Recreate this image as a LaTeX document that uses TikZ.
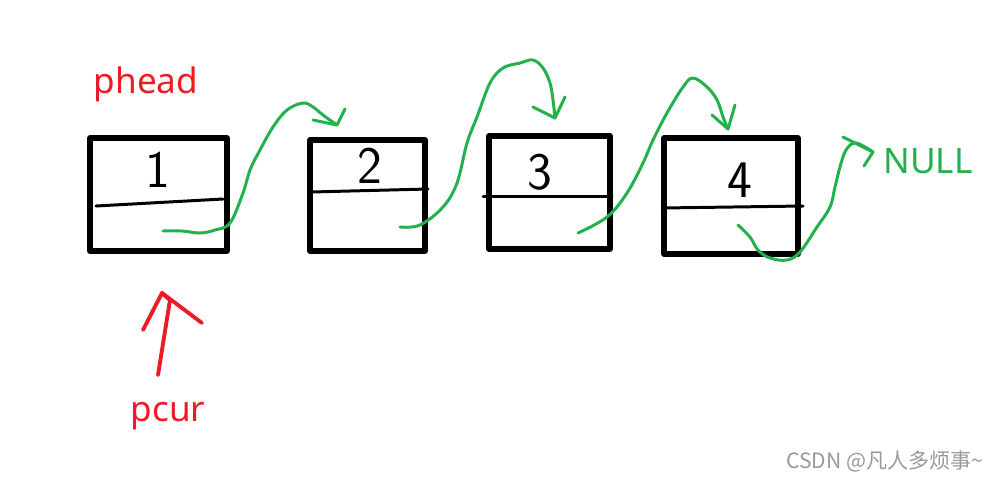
\documentclass[tikz,border=0pt]{standalone}
\usepackage{fontspec}
\setmainfont{Noto Sans}
\newfontfamily\cjk{Noto Sans CJK SC}
\definecolor{lgreen}{RGB}{34,177,76}
\definecolor{lred}{RGB}{237,28,36}

\begin{document}
\begin{tikzpicture}[x=0.02cm, y=-0.02cm, line cap=round, line join=round,
	box/.style={draw, line width=2.9pt, inner sep=0pt},
	digit/.style={font=\fontsize{30}{30}\selectfont\sffamily},
	lbl/.style={font=\fontsize{20}{24}\selectfont},
	link/.style={lgreen, line width=1.7pt},
	ptr/.style={lred, line width=2.2pt}]
	\useasboundingbox (0,0) rectangle (1003,481);

	% list nodes
	\node[box, minimum width=2.74cm, minimum height=2.26cm] (b1) at (158.5,194.5) {};
	\node[box, minimum width=2.30cm, minimum height=2.22cm] (b2) at (367.5,195.5) {};
	\node[box, minimum width=2.42cm, minimum height=2.26cm] (b3) at (549.5,192.5) {};
	\node[box, minimum width=2.68cm, minimum height=2.32cm] (b4) at (731,196) {};

	\node[digit] (d1) at (158,170) {1};
	\node[digit] (d2) at (370,166) {2};
	\node[digit] (d3) at (540,172) {3};
	\node[digit] (d4) at (740,180) {4};

	% data / next split
	\draw[line width=1.7pt] (96,206) -- (223,199);
	\draw[line width=1.7pt] (311,192) -- (428,189);
	\draw[line width=1.7pt] (483,196) -- (612,196);
	\draw[line width=1.7pt] (662,208) -- (803,206);

	\node[lbl, lred] (phead) at (146,84) {phead};
	\node[lbl, lred] (pcur) at (168,416) {pcur};
	\node[lbl, lgreen] (null) at (928,161) {NULL};
	\node[font=\cjk\fontsize{12}{14}\selectfont, gray!80] (mark) at (885,461) {CSDN @凡人多烦事\textasciitilde};

	% next pointers
	\coordinate (s1) at (163,231); \coordinate (t1) at (337,125);
	\coordinate (s2) at (400,227); \coordinate (t2) at (555,118);
	\coordinate (s3) at (578,233); \coordinate (t3) at (728,129);
	\coordinate (s4) at (738,225); \coordinate (t4) at (873,152);

	\draw[link] plot[smooth, tension=0.6] coordinates {(s1) (182,231) (200,233) (215,230) (230,223) (243,193) (250,170) (260,150) (273,127) (287,110) (303,103) (313,107) (323,115) (t1)};
	\draw[link] (313,120) -- (t1) -- (345,109);

	\draw[link] plot[smooth, tension=0.6] coordinates {(s2) (420,225) (443,207) (457,183) (467,143) (477,117) (490,83) (503,68) (520,63) (533,60) (543,68) (550,83) (553,100) (t2)};
	\draw[link] (533,107) -- (t2) -- (565,97);

	\draw[link] plot[smooth, tension=0.6] coordinates {(s3) (607,217) (627,193) (643,163) (653,140) (667,113) (683,87) (693,78) (707,87) (717,100) (723,117) (t3)};
	\draw[link] (712,115) -- (t3) -- (735,105);

	\draw[link] plot[smooth, tension=0.6] coordinates {(s4) (750,237) (758,250) (770,258) (787,260) (800,252) (817,227) (830,207) (835,187) (840,167) (846,150) (856,143) (t4)};
	\draw[link] (843,137) -- (t4) -- (864,166);

	% pcur pointer
	\coordinate (r0) at (158,375); \coordinate (rt) at (162,293);
	\draw[ptr] (r0) -- (170,300) -- (rt);
	\draw[ptr] (143,330) -- (rt) -- (202,323);
\end{tikzpicture}
\end{document}
